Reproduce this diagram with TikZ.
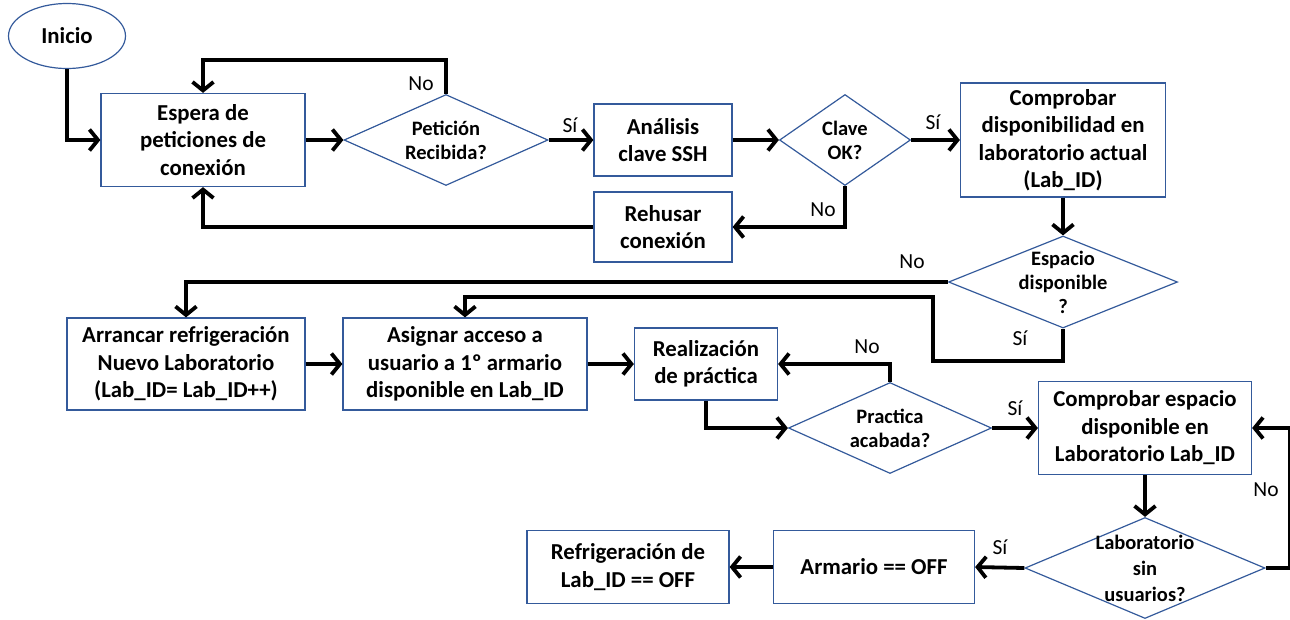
\documentclass[tikz,border=0pt]{standalone}
\usepackage{fontspec}
\setmainfont{Carlito}
\usetikzlibrary{shapes.geometric,arrows.meta}
\definecolor{borde}{RGB}{52,90,155}
\tikzset{
  caja/.style={rectangle, draw=borde, line width=1.2pt, align=center, inner sep=0pt,
    font=\fontsize{22.8}{27.5}\selectfont\bfseries},
  decision/.style={diamond, draw=borde, line width=1.2pt, inner sep=0pt},
  dtexto/.style={align=center, inner sep=0pt, font=\fontsize{20.5}{24}\selectfont\bfseries},
  flecha/.style={line width=3.8pt, -{Straight Barb[length=8.5pt,width=21pt]}},
  etiq/.style={font=\fontsize{21.5}{24}\selectfont},
}
\begin{document}
\begin{tikzpicture}[x=1pt,y=-1pt]
\useasboundingbox (0,0) rectangle (1290,619);
            % Conexion y clave SSH
            \node at (67,36) (inicio) [ellipse, draw=borde, line width=1.2pt, minimum width=117pt, minimum height=65pt, font=\fontsize{22.8}{26}\selectfont\bfseries] {Inicio};
            \node at (203,140) (espera) [caja, minimum width=204pt, minimum height=93pt] {Espera de\\peticiones de\\conexión};
            \node at (446,140) (peticion) [decision, minimum width=204pt, minimum height=91pt, label={[dtexto]center:Petición\\Recibida?}] {};
            \node at (663,140) (analisis) [caja, minimum width=138pt, minimum height=72pt] {Análisis\\clave SSH};
            \node at (845,140) (clave) [decision, minimum width=131pt, minimum height=91pt, label={[dtexto]center:Clave\\OK?}] {};
            \node at (1063,140) (comprobar) [caja, minimum width=205pt, minimum height=114pt] {Comprobar\\disponibilidad en\\laboratorio actual\\(Lab\_ID)};
            \node at (663,227) (rehusar) [caja, minimum width=138pt, minimum height=70pt] {Rehusar\\conexión};
            \node at (1063,282) (espacio) [decision, minimum width=229pt, minimum height=92pt, label={[dtexto]center:Espacio\\disponible\\?}] {};
            % Asignacion de armario y practica
            \node at (186,364) (arrancar) [caja, minimum width=238pt, minimum height=92pt] {Arrancar refrigeración\\Nuevo Laboratorio\\(Lab\_ID= Lab\_ID++)};
            \node at (465,364) (asignar) [caja, minimum width=244pt, minimum height=92pt] {Asignar acceso a\\usuario a 1º armario\\disponible en Lab\_ID};
            \node at (706,364) (realizacion) [caja, minimum width=143pt, minimum height=72pt] {Realización\\de práctica};
            \node at (890,428) (practica) [decision, minimum width=203pt, minimum height=91pt, label={[dtexto]center:Practica\\acabada?}] {};
            \node at (1145,428) (compesp) [caja, minimum width=213pt, minimum height=93pt] {Comprobar espacio\\disponible en\\Laboratorio Lab\_ID};
            \node at (1145,568) (labsin) [decision, minimum width=240pt, minimum height=101pt, label={[dtexto, font=\fontsize{20.5}{26}\selectfont\bfseries]center:Laboratorio\\sin\\usuarios?}] {};
            \node at (874,567) (armario) [caja, minimum width=201pt, minimum height=73pt] {Armario == OFF};
            \node at (628,567) (refrig) [caja, minimum width=202pt, minimum height=73pt] {Refrigeración de\\Lab\_ID == OFF};
            % Etiquetas Si / No
            \node at (421,84) (no1) [etiq] {No};
            \node at (570,125) (si1) [etiq] {Sí};
            \node at (933,122) (si2) [etiq] {Sí};
            \node at (823,210) (no2) [etiq] {No};
            \node at (912,262) (no3) [etiq] {No};
            \node at (1020,338) (si3) [etiq] {Sí};
            \node at (867,347) (no4) [etiq] {No};
            \node at (1015,408) (si4) [etiq] {Sí};
            \node at (1266,490) (no5) [etiq] {No};
            \node at (1000,547) (si5) [etiq] {Sí};
            % Flechas
            \draw[flecha] (inicio.south) |- (espera.west);
            \draw[flecha] (espera.east) -- (peticion.west);
            \draw[flecha] (peticion.north) -- ++(0,-34) -| (espera.north);
            \draw[flecha] (peticion.east) -- (analisis.west);
            \draw[flecha] (analisis.east) -- (clave.west);
            \draw[flecha] (clave.east) -- (comprobar.west);
            \draw[flecha] (clave.south) |- (rehusar.east);
            \draw[flecha] (rehusar.west) -| (espera.south);
            \draw[flecha] (comprobar.south) -- (espacio.north);
            \draw[flecha] (espacio.west) -| (arrancar.north);
            \draw[flecha] (espacio.south) -- ++(0,32) -| ++(-130,-64) -| (asignar.north);
            \draw[flecha] (arrancar.east) -- (asignar.west);
            \draw[flecha] (asignar.east) -- (realizacion.west);
            \draw[flecha] (realizacion.south) |- (practica.west);
            \draw[flecha] (practica.north) |- (realizacion.east);
            \draw[flecha] (practica.east) -- (compesp.west);
            \draw[flecha] (compesp.south) -- (labsin.north);
            \draw[flecha] (labsin.east) -- ++(24,0) |- (compesp.east);
            \draw[flecha] (labsin.west) -- (armario.east);
            \draw[flecha] (armario.west) -- (refrig.east);
        \end{tikzpicture}
\end{document}
